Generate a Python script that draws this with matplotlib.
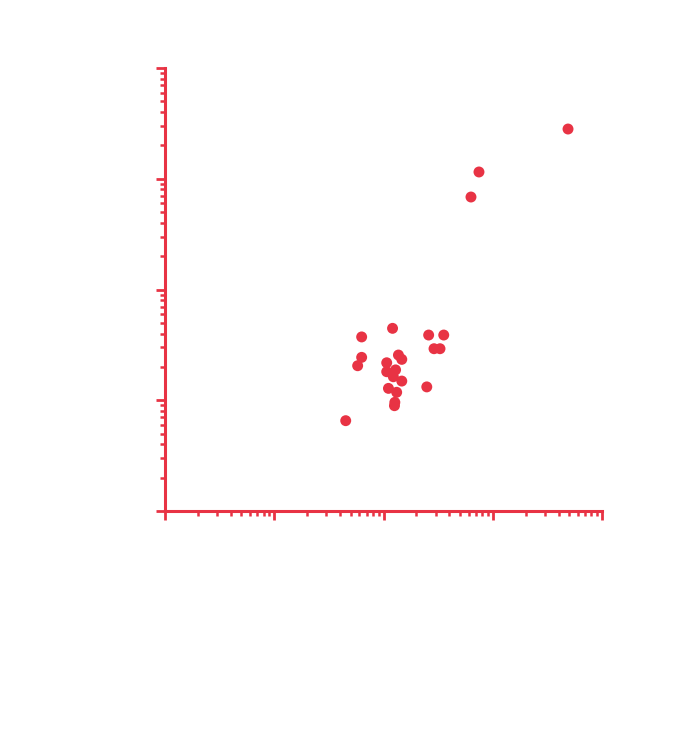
import matplotlib
matplotlib.use("Agg")
import matplotlib.pyplot as plt
import numpy as np
from matplotlib.ticker import LogLocator, NullFormatter

# values (log-log, decades 1..1e4 on both axes)
x_vals = [45.1, 63.1, 63.1, 58.0, 121, 137, 147, 107, 129, 107, 123, 147,
          111, 132, 127, 126, 249, 259, 356, 290, 329, 632, 748, 4886]
y_vals = [6.54, 37.3, 24.4, 20.5, 44.6, 25.6, 23.4, 21.8, 18.8, 18.1, 16.3, 14.9,
          12.8, 11.8, 9.58, 8.93, 13.2, 38.8, 38.8, 29.2, 29.2, 684, 1151, 2812]

red = '#e83344'

fig = plt.figure(figsize=(6.86, 7.35), dpi=100)
ax = fig.add_axes([165 / 686, 1 - 511 / 735, (602 - 165) / 686, (511 - 68) / 735])

ax.scatter(x_vals, y_vals, s=62, color=red, edgecolors='none', zorder=3, clip_on=False)

ax.set_xscale('log')
ax.set_yscale('log')
ax.set_xlim(1, 1e4)
ax.set_ylim(1, 1e4)

for side in ['top', 'right']:
    ax.spines[side].set_visible(False)
for side in ['left', 'bottom']:
    ax.spines[side].set_color(red)
    ax.spines[side].set_linewidth(2.2)

for axis in [ax.xaxis, ax.yaxis]:
    axis.set_major_locator(LogLocator(base=10, numticks=10))
    axis.set_minor_locator(LogLocator(base=10, subs=np.arange(2, 10), numticks=10))
    axis.set_major_formatter(NullFormatter())
    axis.set_minor_formatter(NullFormatter())

ax.tick_params(which='major', direction='out', length=6.5, width=2, color=red)
ax.tick_params(which='minor', direction='out', length=3.8, width=1.8, color=red)

fig.savefig('out.png', dpi=100)
